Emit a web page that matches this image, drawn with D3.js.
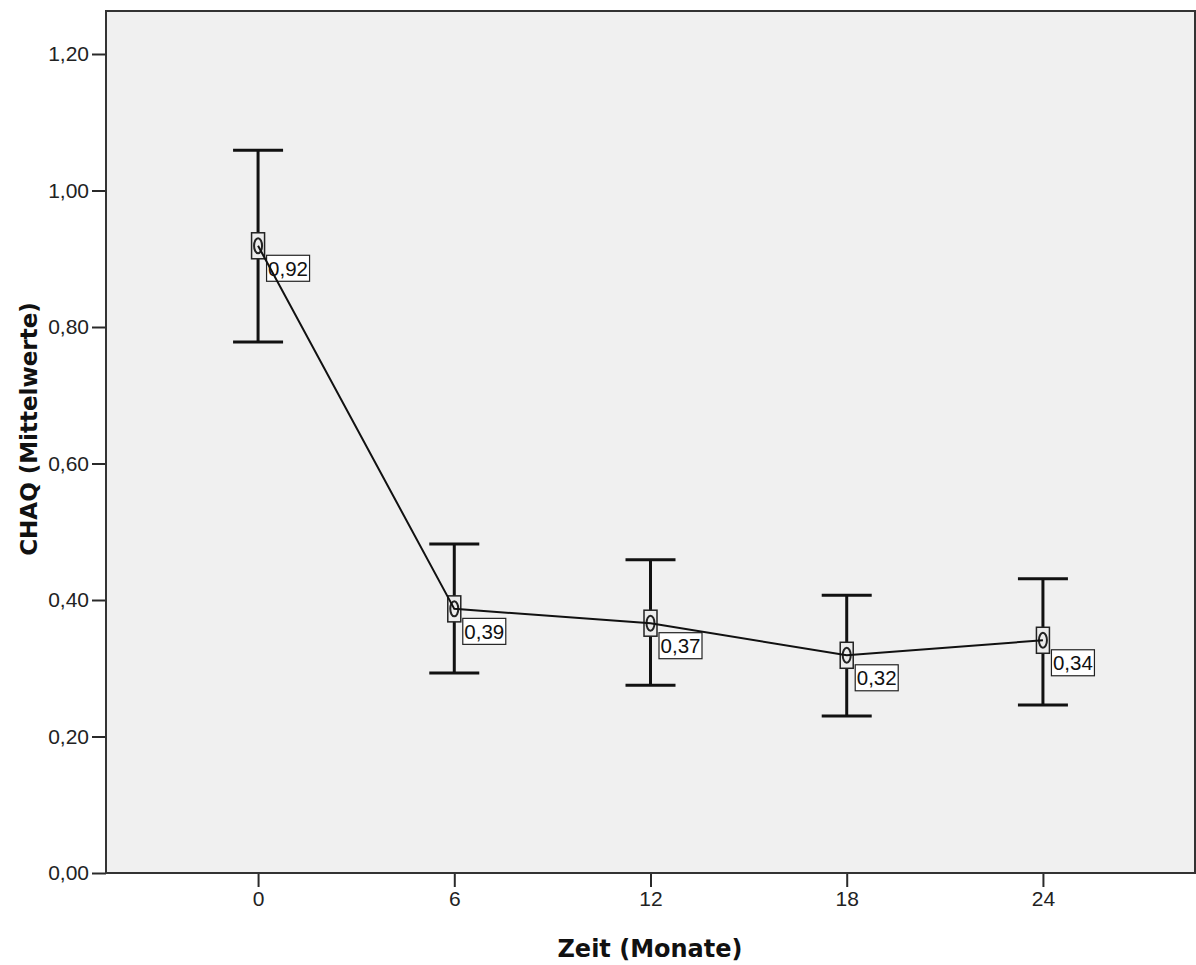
<!DOCTYPE html>
<html><head><meta charset="utf-8">
<script src="https://cdn.jsdelivr.net/npm/d3@7"></script>
<style>body{margin:0;background:#fff}</style>
</head><body>
<svg id="c" width="1196" height="965"></svg>
<script>
const categories = ["0", "6", "12", "18", "24"];
const means = [0.919, 0.387, 0.366, 0.319, 0.341];
const upper = [1.059, 0.482, 0.459, 0.407, 0.431];
const lower = [0.778, 0.293, 0.275, 0.230, 0.246];
const valueLabels = ["0,92", "0,39", "0,37", "0,32", "0,34"];
const yTicks = [0, 0.2, 0.4, 0.6, 0.8, 1.0, 1.2];

const loc = d3.formatLocale({decimal: ",", thousands: ".", grouping: [3], currency: ["", "€"]});
const fmt = loc.format(".2f");

const svg = d3.select("#c");
const L = 106, R = 1195, T = 11, B = 873;
const x = d3.scalePoint().domain(categories).range([L, R]).padding(0.775);
const y = d3.scaleLinear().domain([0, 1.263]).range([B, T]);

svg.append("rect").attr("x", L).attr("y", T).attr("width", R - L).attr("height", B - T)
  .attr("fill", "#f0f0f0");

// axes
const yAxis = svg.append("g").attr("transform", `translate(${L},0)`)
  .call(d3.axisLeft(y).tickValues(yTicks).tickFormat(fmt).tickSize(14).tickPadding(3));
const xAxis = svg.append("g").attr("transform", `translate(0,${B})`)
  .call(d3.axisBottom(x).tickSize(14).tickPadding(4));
[yAxis, xAxis].forEach(g => {
  g.select(".domain").remove();
  g.selectAll("line").attr("stroke", "#2a2a2a").attr("stroke-width", 2);
  g.selectAll("text").attr("font-family", "Liberation Sans, Arial, sans-serif")
    .attr("font-size", 21).attr("fill", "#222");
});

// frame
svg.append("rect").attr("x", L).attr("y", T).attr("width", R - L).attr("height", B - T)
  .attr("fill", "none").attr("stroke", "#333").attr("stroke-width", 2);

const data = categories.map((c, i) => ({c, m: means[i], u: upper[i], l: lower[i], lab: valueLabels[i]}));

// error bars
const eb = svg.append("g").attr("stroke", "#111").attr("stroke-width", 3);
data.forEach(d => {
  eb.append("line").attr("x1", x(d.c)).attr("x2", x(d.c)).attr("y1", y(d.u)).attr("y2", y(d.l));
  eb.append("line").attr("x1", x(d.c) - 25).attr("x2", x(d.c) + 25).attr("y1", y(d.u)).attr("y2", y(d.u));
  eb.append("line").attr("x1", x(d.c) - 25).attr("x2", x(d.c) + 25).attr("y1", y(d.l)).attr("y2", y(d.l));
});

// markers
const mk = svg.append("g");
data.forEach(d => {
  mk.append("rect").attr("x", x(d.c) - 6.5).attr("y", y(d.m) - 13).attr("width", 13).attr("height", 26)
    .attr("fill", "#ececec").attr("stroke", "#222").attr("stroke-width", 1.5);
  mk.append("ellipse").attr("cx", x(d.c)).attr("cy", y(d.m)).attr("rx", 4).attr("ry", 7.5)
    .attr("fill", "none").attr("stroke", "#222").attr("stroke-width", 2);
});

// value labels
const lb = svg.append("g");
data.forEach(d => {
  const bx = x(d.c) + 8.5, by = y(d.m) + 9.5;
  lb.append("rect").attr("x", bx).attr("y", by).attr("width", 43).attr("height", 26)
    .attr("fill", "#fff").attr("stroke", "#222").attr("stroke-width", 1.2);
  lb.append("text").attr("x", bx + 21.5).attr("y", by + 20.5).attr("text-anchor", "middle")
    .attr("font-family", "Liberation Sans, Arial, sans-serif").attr("font-size", 20.5).attr("fill", "#111")
    .text(d.lab);
});

// mean line
svg.append("path").datum(data)
  .attr("d", d3.line().x(d => x(d.c)).y(d => y(d.m)))
  .attr("fill", "none").attr("stroke", "#111").attr("stroke-width", 2);

// axis titles
svg.append("text").attr("x", 650).attr("y", 957).attr("text-anchor", "middle")
  .attr("font-family", "DejaVu Sans, Verdana, sans-serif").attr("font-weight", "bold").attr("font-size", 24)
  .attr("fill", "#111").text("Zeit (Monate)");
svg.append("text").attr("transform", "translate(37,429) rotate(-90)").attr("text-anchor", "middle")
  .attr("font-family", "DejaVu Sans, Verdana, sans-serif").attr("font-weight", "bold").attr("font-size", 23)
  .attr("fill", "#111").text("CHAQ (Mittelwerte)");
</script>
</body></html>
